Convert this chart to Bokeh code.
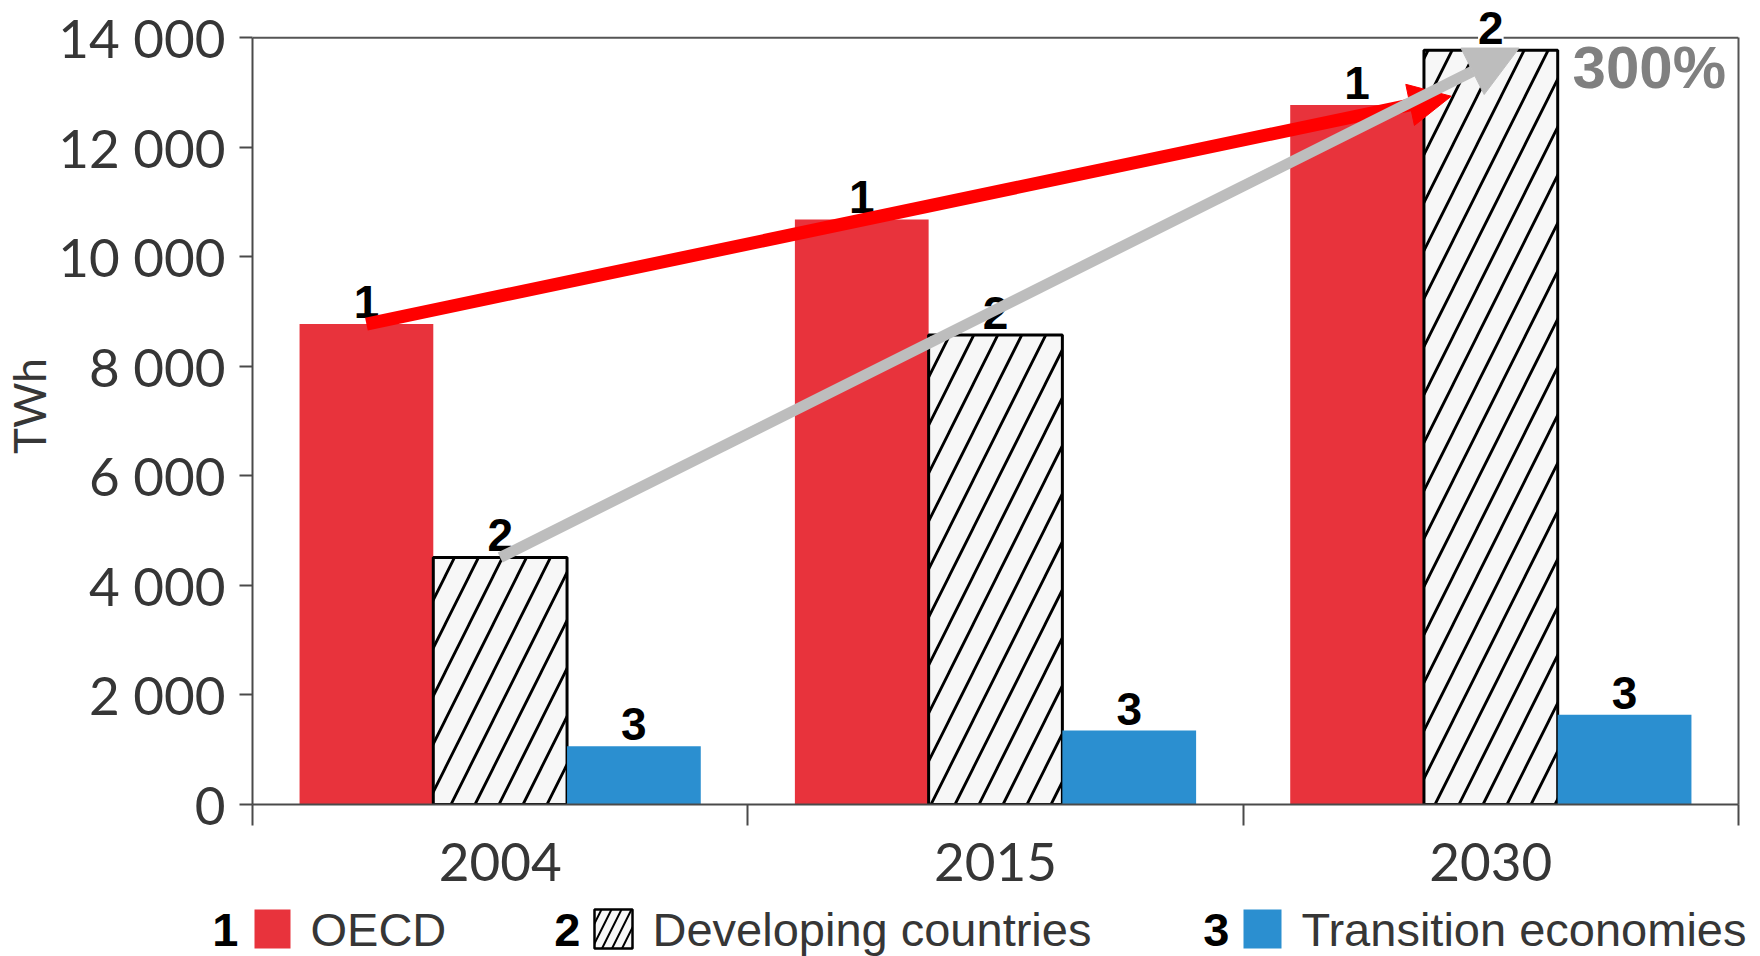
from bokeh.plotting import figure
from bokeh.models import (Range1d, FixedTicker, ColumnDataSource, Label, LinearAxis,
                          Arrow, NormalHead, Span)
from bokeh.layouts import column
from bokeh.core.properties import value
from bokeh.embed import file_html
from bokeh.resources import INLINE

# ---------------- data ----------------
years = ["2004", "2015", "2030"]
oecd = [8770, 10680, 12770]
developing = [4510, 8570, 13770]
transition = [1065, 1350, 1640]
series_names = ["OECD", "Developing countries", "Transition economies"]
series_numbers = ["1", "2", "3"]
y_ticks = [0, 2000, 4000, 6000, 8000, 10000, 12000, 14000]
y_tick_labels = ["0", "2 000", "4 000", "6 000", "8 000", "10 000", "12 000", "14 000"]
y_axis_label = "TWh"
growth_label = "300%"

# ---------------- styles ----------------
RED = "#e8333c"
BLUE = "#2b8fd0"
HATCH_BG = "#f7f7f7"
TEXT = "#363636"
AXIS = "#4a4a4a"
TICK_FONT = "Lato"
NUM_FONT = "Liberation Sans"
LEG_FONT = "Liberation Sans"

W = 1760
FRAME_L, FRAME_R = 252, 22
HEAD_ROOM = 550          # extra space above the top tick so labels are not clipped

n = len(years)
centers = [i + 0.5 for i in range(n)]
off = 0.27
bw = 0.27
x_oecd = [c - off for c in centers]
x_dev = [c for c in centers]
x_tr = [c + off for c in centers]
y_min, y_max = y_ticks[0], y_ticks[-1]

p = figure(width=W, height=900, x_range=Range1d(0, n), y_range=Range1d(y_min, y_max + HEAD_ROOM),
           output_backend="svg", toolbar_location=None,
           min_border_left=FRAME_L, min_border_right=FRAME_R, min_border_top=7, min_border_bottom=96)
p.xgrid.visible = False
p.ygrid.visible = False
p.outline_line_color = None
p.background_fill_color = "white"
p.border_fill_color = "white"

# x axis: labels at category centres, tick marks at category boundaries
xa = p.xaxis[0]
xa.ticker = FixedTicker(ticks=centers, minor_ticks=[float(i) for i in range(n + 1)])
xa.major_label_overrides = {c: y for c, y in zip(centers, years)}
xa.major_tick_line_color = None
xa.major_tick_out = 0
xa.major_tick_in = 0
xa.minor_tick_out = 21
xa.minor_tick_in = 0
xa.minor_tick_line_color = AXIS
xa.minor_tick_line_width = 2
xa.axis_line_color = AXIS
xa.axis_line_width = 2
xa.major_label_text_font = TICK_FONT
xa.major_label_text_font_size = "53px"
xa.major_label_text_color = TEXT
xa.major_label_standoff = 17

ya = p.yaxis[0]
ya.bounds = (y_min, y_max)
ya.ticker = FixedTicker(ticks=y_ticks)
ya.major_label_overrides = {t: l for t, l in zip(y_ticks, y_tick_labels)}
ya.minor_tick_line_color = None
ya.major_tick_out = 13
ya.major_tick_in = 0
ya.major_tick_line_color = AXIS
ya.major_tick_line_width = 2
ya.axis_line_color = AXIS
ya.axis_line_width = 2
ya.major_label_text_font = TICK_FONT
ya.major_label_text_font_size = "53px"
ya.major_label_text_color = TEXT
ya.major_label_standoff = 14
ya.axis_label = y_axis_label
ya.axis_label_text_font = TICK_FONT
ya.axis_label_text_font_size = "44px"
ya.axis_label_text_font_style = "normal"
ya.axis_label_text_color = TEXT
ya.axis_label_standoff = 0

# right frame edge: an unlabelled axis bounded to the data range
ra = LinearAxis(bounds=(y_min, y_max), ticker=FixedTicker(ticks=[]), major_tick_out=0,
                major_tick_in=0, minor_tick_out=0, minor_tick_in=0,
                major_label_text_font_size="0px", axis_line_color="#555555", axis_line_width=2)
p.add_layout(ra, "right")
# top frame edge at the highest tick
p.add_layout(Span(location=y_max, dimension="width", line_color="#555555", line_width=2))

src_o = ColumnDataSource(dict(x=x_oecd, top=oecd))
src_d = ColumnDataSource(dict(x=x_dev, top=developing))
src_t = ColumnDataSource(dict(x=x_tr, top=transition))

p.vbar(x="x", top="top", width=bw, source=src_o, fill_color=RED, line_color=None)
p.vbar(x="x", top="top", width=bw, source=src_d, fill_color=HATCH_BG, line_color="black",
       line_width=3, hatch_pattern="/", hatch_color="black", hatch_weight=2.8, hatch_scale=48)
p.vbar(x="x", top="top", width=bw, source=src_t, fill_color=BLUE, line_color=None)

# series numbers above every bar
for xs, vals, num in ((x_oecd, oecd, series_numbers[0]),
                      (x_dev, developing, series_numbers[1]),
                      (x_tr, transition, series_numbers[2])):
    for xv, yv in zip(xs, vals):
        p.add_layout(Label(x=xv, y=yv, text=num, text_align="center", text_baseline="bottom",
                           y_offset=6, text_font=NUM_FONT, text_font_style="bold",
                           text_font_size="46px", text_color="black",
                           background_fill_color="white"))

# growth arrows (OECD in red, developing countries in grey)
p.add_layout(Arrow(end=NormalHead(size=42, fill_color="#ff0000", line_color="#ff0000"),
                   x_start=x_oecd[0], y_start=oecd[0],
                   x_end=x_dev[-1] - bw / 2 + 0.055, y_end=oecd[-1] + 160,
                   line_color="#ff0000", line_width=13))
p.add_layout(Arrow(end=NormalHead(size=52, fill_color="#bdbdbd", line_color="#bdbdbd"),
                   x_start=x_dev[0], y_start=developing[0],
                   x_end=x_dev[-1] + 0.057, y_end=developing[-1] + 40,
                   line_color="#bdbdbd", line_width=11))

p.add_layout(Label(x=x_dev[-1] + bw / 2 + 0.03, y=y_max, y_offset=4, text=growth_label,
                   text_baseline="top", text_align="left", text_font=NUM_FONT,
                   text_font_style="bold", text_font_size="60px", text_color="#808080"))

# ---------------- legend strip (data units = page pixels) ----------------
LH = 56
lf = figure(frame_width=W, frame_height=LH, x_range=Range1d(0, W), y_range=Range1d(0, LH),
            output_backend="svg", toolbar_location=None, min_border=0)
if hasattr(lf, "frame_align"):
    lf.frame_align = False
lf.axis.visible = False
lf.grid.visible = False
lf.outline_line_color = None

sw_left = [252, 594, 1243]
sw_w = 38
sw_right = [l + sw_w for l in sw_left]
num_right = [l - 14 for l in sw_left]
txt_left = [r + 20 for r in sw_right]
sw_bottom, sw_top = 8, 47
text_mid = 27

lf.quad(left=[sw_left[0] + 2], right=[sw_right[0]], bottom=[sw_bottom], top=[sw_top],
        fill_color=RED, line_color=None)
lf.quad(left=[sw_left[1]], right=[sw_right[1]], bottom=[sw_bottom], top=[sw_top],
        fill_color=HATCH_BG, line_color="black", line_width=2.5, hatch_pattern="/",
        hatch_color="black", hatch_weight=2, hatch_scale=20)
lf.quad(left=[sw_left[2]], right=[sw_right[2]], bottom=[sw_bottom], top=[sw_top],
        fill_color=BLUE, line_color=None)

lf.text(x=num_right, y=[text_mid] * 3, text=series_numbers, text_align="right",
        text_baseline="middle", text_font=value(NUM_FONT), text_font_style="bold",
        text_font_size="47px", text_color="black")
lf.text(x=txt_left, y=[text_mid] * 3, text=series_names, text_align="left",
        text_baseline="middle", text_font=value(LEG_FONT), text_font_size="47px",
        text_color=TEXT)

layout = column(p, lf, spacing=0)
open("out.html", "w").write(file_html(layout, INLINE))
